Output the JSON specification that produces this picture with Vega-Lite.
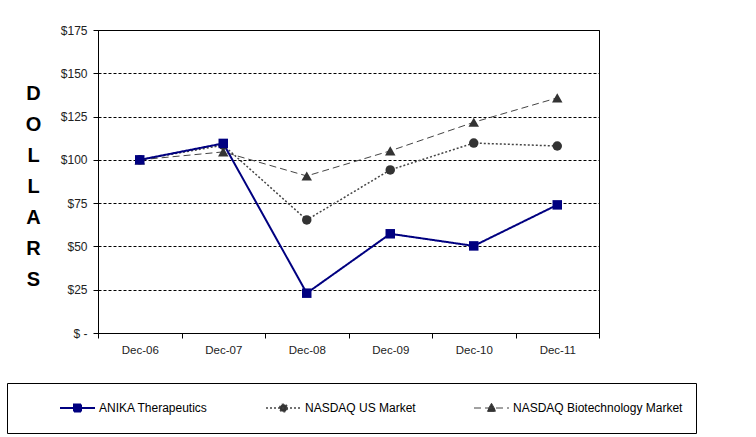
{
  "$schema": "https://vega.github.io/schema/vega-lite/v6.json",
  "width": 501,
  "height": 303,
  "autosize": "none",
  "padding": {"left": 98, "top": 30, "right": 157, "bottom": 104},
  "background": "white",
  "data": {
    "values": [
      {"date": "Dec-06", "series": "NASDAQ US Market", "value": 100},
      {"date": "Dec-07", "series": "NASDAQ US Market", "value": 108.5},
      {"date": "Dec-08", "series": "NASDAQ US Market", "value": 65.3},
      {"date": "Dec-09", "series": "NASDAQ US Market", "value": 94.2},
      {"date": "Dec-10", "series": "NASDAQ US Market", "value": 109.7},
      {"date": "Dec-11", "series": "NASDAQ US Market", "value": 108},
      {"date": "Dec-06", "series": "NASDAQ Biotechnology Market", "value": 100},
      {"date": "Dec-07", "series": "NASDAQ Biotechnology Market", "value": 104.6},
      {"date": "Dec-08", "series": "NASDAQ Biotechnology Market", "value": 90.7},
      {"date": "Dec-09", "series": "NASDAQ Biotechnology Market", "value": 105.2},
      {"date": "Dec-10", "series": "NASDAQ Biotechnology Market", "value": 121.7},
      {"date": "Dec-11", "series": "NASDAQ Biotechnology Market", "value": 135.8},
      {"date": "Dec-06", "series": "ANIKA Therapeutics", "value": 100},
      {"date": "Dec-07", "series": "ANIKA Therapeutics", "value": 109.5},
      {"date": "Dec-08", "series": "ANIKA Therapeutics", "value": 23},
      {"date": "Dec-09", "series": "ANIKA Therapeutics", "value": 57.3},
      {"date": "Dec-10", "series": "ANIKA Therapeutics", "value": 50.3},
      {"date": "Dec-11", "series": "ANIKA Therapeutics", "value": 74}
    ]
  },
  "encoding": {
    "x": {
      "field": "date",
      "type": "ordinal",
      "bandPosition": 0.5,
      "scale": {"type": "band", "paddingInner": 0, "paddingOuter": 0},
      "axis": {
        "title": null,
        "labelAngle": 0,
        "tickBand": "extent",
        "tickSize": 5,
        "labelPadding": 6,
        "labelFontSize": 11.5
      }
    },
    "y": {
      "field": "value",
      "type": "quantitative",
      "scale": {"domain": [0, 175], "nice": false},
      "axis": {
        "values": [0, 25, 50, 75, 100, 125, 150, 175],
        "labelExpr": "datum.value == 0 ? '$ -' : '$' + datum.value",
        "labelFontSize": 12,
        "grid": true,
        "gridColor": "#000",
        "gridDash": [3, 2],
        "gridOpacity": 1,
        "tickSize": 5,
        "labelPadding": 6,
        "title": ["D", "O", "L", "L", "A", "R", "S"],
        "titleAngle": 0,
        "titleAlign": "center",
        "titleBaseline": "top",
        "titleX": -65,
        "titleY": 53,
        "titleLineHeight": 31,
        "titleFontSize": 20,
        "titleFontWeight": "bold",
        "titleColor": "#000"
      }
    }
  },
  "layer": [
    {
      "mark": {"type": "line"},
      "encoding": {
        "color": {
          "field": "series",
          "type": "nominal",
          "scale": {
            "domain": ["ANIKA Therapeutics", "NASDAQ US Market", "NASDAQ Biotechnology Market"],
            "range": ["#000080", "#444444", "#444444"]
          },
          "legend": {
            "title": " ",
            "titleOrient": "left",
            "titlePadding": 39,
            "titleFontSize": 12,
            "orient": "none",
            "legendX": -91,
            "legendY": 353,
            "direction": "horizontal",
            "columns": 3,
            "columnPadding": 57,
            "padding": 13,
            "clipHeight": 24,
            "strokeColor": "#000",
            "fillColor": "#fff",
            "labelFont": "Liberation Sans",
            "labelFontSize": 12,
            "labelColor": "#000",
            "labelOffset": 3,
            "labelLimit": 400,
            "labelExpr": "indexof(datum.label, 'Biotech') >= 0 ? datum.label + '\u00a0\u00a0\u00a0\u00a0\u00a0\u00a0\u00a0\u00a0\u00a0\u00a0\u00a0\u00a0' : datum.label",
            "symbolType": "M-1,0H1",
            "symbolSize": 1225,
            "symbolStrokeWidth": 1,
            "encode": {
              "symbols": {
                "update": {
                  "shape": {"signal": "datum.value == 'ANIKA Therapeutics' ? 'M-1,0H1M-0.2,-0.2H0.2V0.2H-0.2Z' : datum.value == 'NASDAQ US Market' ? 'M-1,0H1M0.22,0A0.22,0.22,0,1,1,-0.22,0A0.22,0.22,0,1,1,0.22,0Z' : 'M-1,0H1M0,-0.27L0.27,0.2L-0.27,0.2Z'"},
                  "size": {"value": 1225},
                  "fill": {"signal": "datum.value == 'ANIKA Therapeutics' ? '#000080' : '#333333'"},
                  "stroke": {"signal": "datum.value == 'ANIKA Therapeutics' ? '#000080' : '#333333'"},
                  "strokeWidth": {"signal": "datum.value == 'ANIKA Therapeutics' ? 2 : 1"},
                  "strokeDash": {"signal": "datum.value == 'ANIKA Therapeutics' ? [1, 0] : datum.value == 'NASDAQ US Market' ? [2, 2] : [6, 5]"},
                  "opacity": {"value": 1}
                }
              }
            }
          }
        },
        "strokeWidth": {
          "field": "series",
          "type": "nominal",
          "scale": {
            "domain": ["ANIKA Therapeutics", "NASDAQ US Market", "NASDAQ Biotechnology Market"],
            "range": [2, 1, 1]
          },
          "legend": null
        },
        "strokeDash": {
          "field": "series",
          "type": "nominal",
          "scale": {
            "domain": ["ANIKA Therapeutics", "NASDAQ US Market", "NASDAQ Biotechnology Market"],
            "range": [[1, 0], [2, 2], [7, 4]]
          },
          "legend": null
        }
      }
    },
    {
      "transform": [{"filter": "datum.series == 'NASDAQ US Market'"}],
      "mark": {"type": "point", "filled": true, "opacity": 1, "shape": "circle", "size": 90, "color": "#333333"}
    },
    {
      "transform": [{"filter": "datum.series == 'NASDAQ Biotechnology Market'"}],
      "mark": {"type": "point", "filled": true, "opacity": 1, "shape": "triangle-up", "size": 110, "color": "#333333"}
    },
    {
      "transform": [{"filter": "datum.series == 'ANIKA Therapeutics'"}],
      "mark": {"type": "point", "filled": true, "opacity": 1, "shape": "square", "size": 90, "color": "#000080"}
    }
  ],
  "config": {
    "font": "Liberation Sans",
    "view": {"stroke": "#000", "strokeWidth": 1},
    "axis": {
      "domainColor": "#000",
      "tickColor": "#000",
      "labelColor": "#222",
      "labelFontSize": 11,
      "labelFont": "Liberation Sans"
    }
  }
}
